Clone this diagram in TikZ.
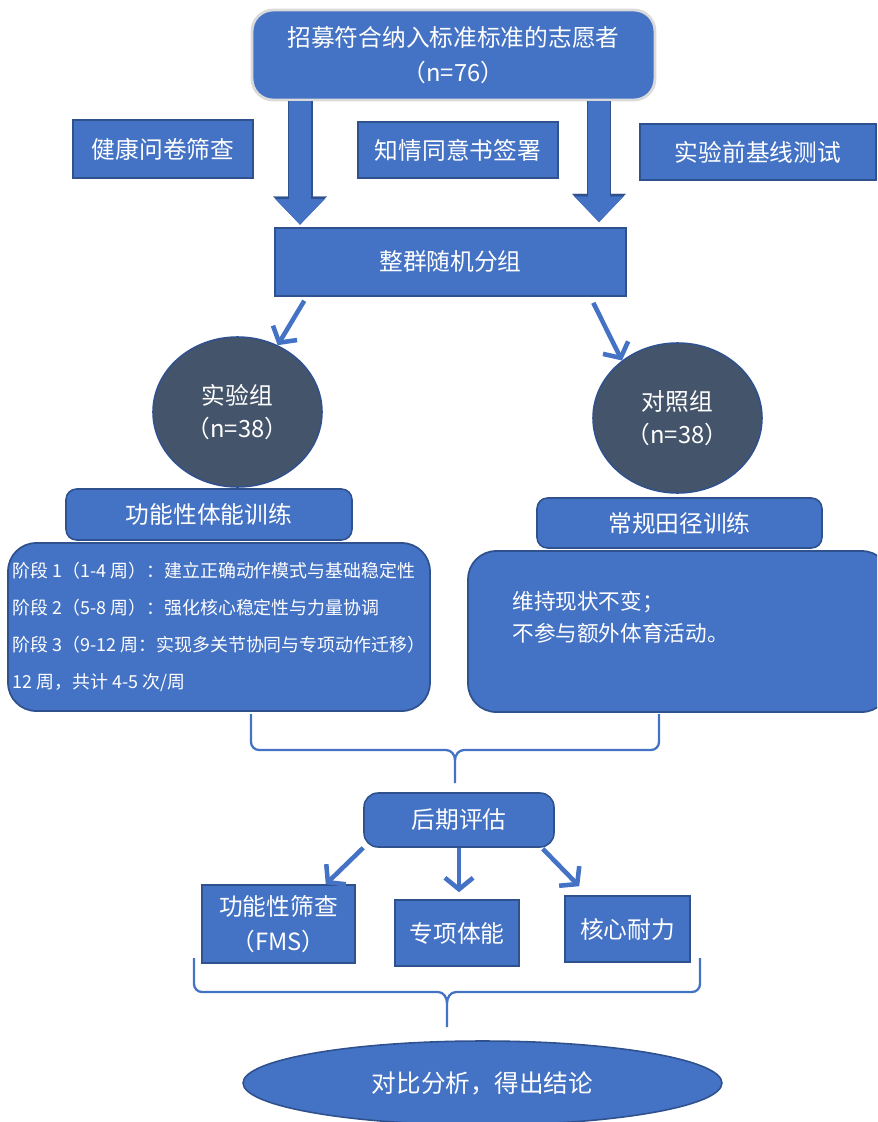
\documentclass[tikz,border=0pt]{standalone}
\usepackage{fontspec}
\setmainfont{Noto Sans CJK SC}
\usepackage{xcolor}
\usetikzlibrary{arrows.meta}
\usetikzlibrary{calc}
\usetikzlibrary{shapes.geometric}
\definecolor{boxblue}{HTML}{4472C4}
\definecolor{edgeblue}{HTML}{2F528F}
\definecolor{slate}{HTML}{44546A}
\definecolor{rim}{HTML}{DADADA}
\tikzset{
  % A square-cornered step of the flow
  stepbox/.style={
    draw=edgeblue, fill=boxblue, rectangle, align=center, text=white,
    font=\fontsize{13.5}{20}\selectfont, inner sep=0pt, line width=0.9pt,
    minimum width=#1},
  % The same step with rounded corners
  roundbox/.style={stepbox=#1, rounded corners=6pt},
  % A group circle
  grpcircle/.style={
    draw=edgeblue, fill=slate, ellipse, align=center, text=white,
    font=\fontsize{13.5}{19}\selectfont, inner sep=0pt, line width=0.9pt,
    minimum width=3.38cm, minimum height=3cm},
  % The training plan panels
  planbox/.style={
    draw=edgeblue, fill=boxblue, rectangle, rounded corners=16pt,
    line width=1pt, minimum width=8.44cm},
  plantext/.style={text=white, align=left, inner sep=0pt},
  % Connectors
  bigarrow/.style={
    draw=boxblue, line width=12.6pt,
    -{Triangle[length=14.5pt,width=28pt,line width=0.1pt]},
    preaction={draw=edgeblue, line width=14.2pt,
      -{Triangle[length=16pt,width=30.5pt,line width=0.1pt]}}},
  link/.style={draw=boxblue, line width=2.6pt, -{Straight Barb[length=6.5pt,width=16pt]}},
  bracket/.style={draw=boxblue, line width=1.3pt},
}

\begin{document}
\begin{tikzpicture}[x=0.02cm, y=-0.02cm]
\useasboundingbox (0,0) rectangle (877,1122);
\clip (0,0) rectangle (877,1122);

\node[roundbox=8.06cm, minimum height=1.8cm, draw=rim, line width=1.6pt, rounded corners=12pt]
  (recruit) at (453.5,55) {招募符合纳入标准标准的志愿者\\（n=76）};

\node[stepbox=3.6cm, minimum height=1.16cm] (health) at (163,149) {健康问卷筛查};
\node[stepbox=4cm, minimum height=1.12cm] (consent) at (458,150) {知情同意书签署};
\node[stepbox=4.72cm, minimum height=1.12cm] (baseline) at (758,152) {实验前基线测试};

\node[stepbox=7.02cm, minimum height=1.36cm] (cluster) at (450.5,262) {整群随机分组};

\node[grpcircle] (expgrp) at (237.5,412) {实验组\\（n=38）};
\node[grpcircle] (ctrlgrp) at (677.5,418) {对照组\\（n=38）};

\node[roundbox=5.72cm, minimum height=1.02cm] (fttrain) at (209,514.5) {功能性体能训练};
\node[roundbox=5.7cm, minimum height=1cm] (tftrain) at (679.5,523) {常规田径训练};

\node[planbox, minimum height=3.36cm, plantext, font=\fontsize{10.2}{21}\selectfont] (ftplan) at (219,627) {
  阶段 1（1-4 周）：建立正确动作模式与基础稳定性\\
  阶段 2（5-8 周）：强化核心稳定性与力量协调\\
  阶段 3（9-12 周：实现多关节协同与专项动作迁移）\\
  12 周，共计 4-5 次/周
};

\node[planbox, minimum height=3.22cm] (tfplan) at (679,631.5) {};
\node[plantext, anchor=north west, font=\fontsize{12.3}{18}\selectfont] (tfnote)
  at ($(tfplan.north west)+(45,41)$) {维持现状不变；\\不参与额外体育活动。};

\node[roundbox=3.8cm, minimum height=1.08cm, rounded corners=8pt] (posttest) at (459,820) {后期评估};

\node[stepbox=3.06cm, minimum height=1.56cm] (fms) at (278.5,924) {功能性筛查\\（FMS）};
\node[stepbox=2.48cm, minimum height=1.32cm] (sport) at (457,933) {专项体能};
\node[stepbox=2.5cm, minimum height=1.32cm] (core) at (627.5,929) {核心耐力};

\node[grpcircle, fill=boxblue, minimum width=9.58cm, minimum height=1.68cm,
  font=\fontsize{14}{18}\selectfont] (verdict) at (482.5,1083) {对比分析，得出结论};

% block arrows out of the recruitment box
\coordinate (lshaft) at ([xshift=-3.07cm]recruit.south);
\coordinate (rshaft) at ([xshift=2.91cm]recruit.south);
\draw[bigarrow, shorten >=1.5pt] (lshaft) -- (lshaft |- cluster.north);
\draw[bigarrow, shorten >=3pt] (rshaft) -- (rshaft |- cluster.north);

\draw[link] ($(cluster.south west)+(30,4)$) -- (expgrp.59);
\draw[link] ($(cluster.south west)+(319,6)$) -- (ctrlgrp.134);

\draw[link] (posttest.south west) -- ($(fms.north east)+(-30,0)$);
\draw[link, shorten >=4pt] (posttest.south) -- (posttest.south |- sport.north);
\draw[link] ($(posttest.south east)+(-12,1)$) -- ($(core.north west)+(15,-9)$);

% braces gathering the two arms
\coordinate (b1l) at (251,714);
\coordinate (b1r) at (659,714);
\coordinate (b1m) at (455,783);
\draw[bracket] (b1l) -- (251,742) to[out=-90,in=180] (259,750) -- (446,750)
  to[out=0,in=90] (455,760) -- (b1m);
\draw[bracket] (b1r) -- (659,742) to[out=-90,in=0] (651,750) -- (464,750)
  to[out=180,in=90] (455,760);

\coordinate (b2l) at (194,958);
\coordinate (b2r) at (700,958);
\coordinate (b2m) at (447,1027);
\draw[bracket] (b2l) -- (194,984) to[out=-90,in=180] (202,992) -- (438,992)
  to[out=0,in=90] (447,1003) -- (b2m);
\draw[bracket] (b2r) -- (700,984) to[out=-90,in=0] (692,992) -- (456,992)
  to[out=180,in=90] (447,1003);

\end{tikzpicture}
\end{document}
